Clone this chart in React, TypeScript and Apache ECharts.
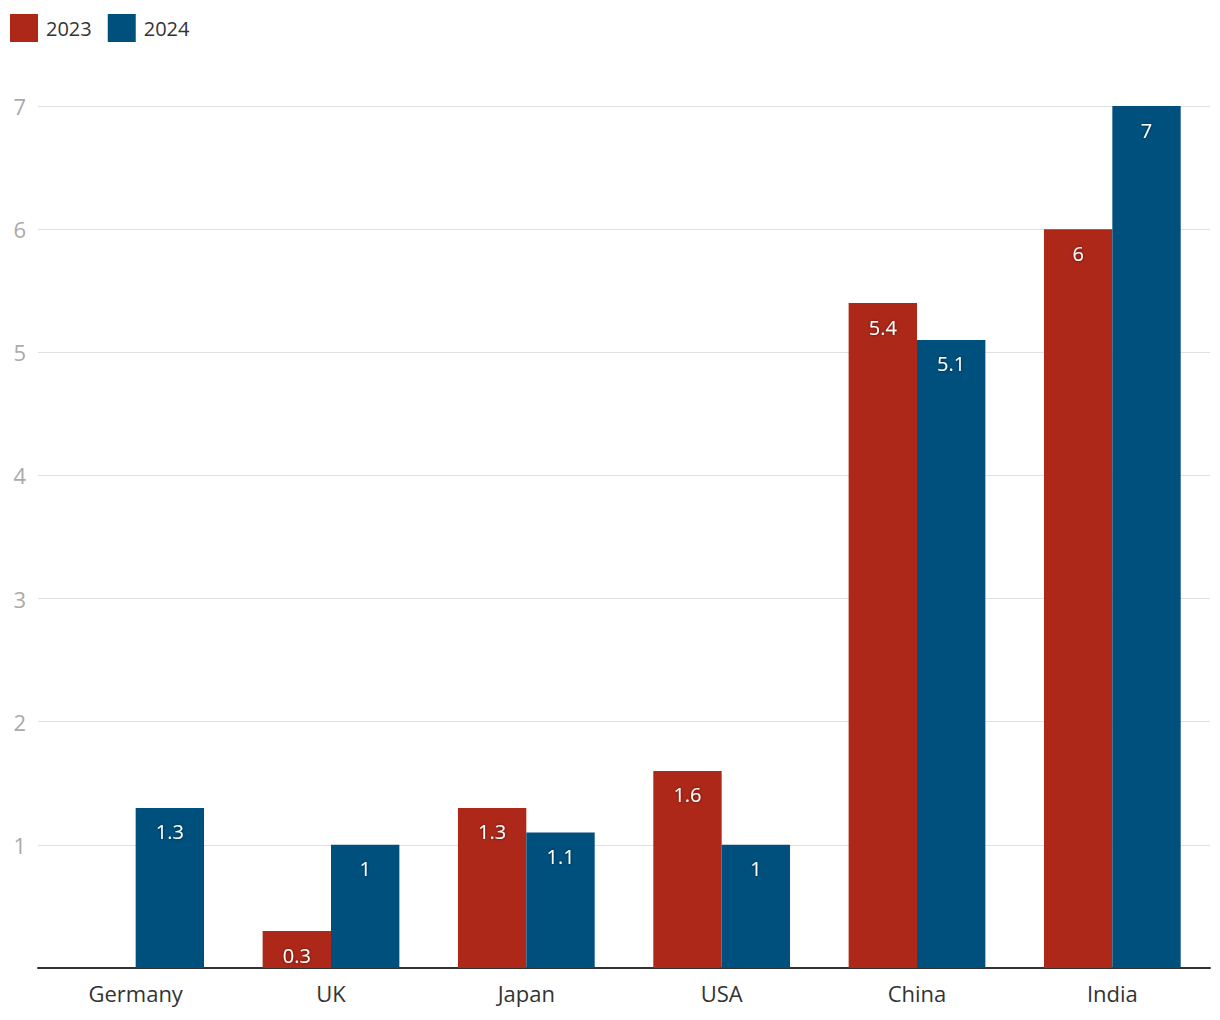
import React, { useEffect, useRef } from "react";
import * as echarts from "echarts";

const categories = ["Germany", "UK", "Japan", "USA", "China", "India"];
const values2023: (number | null)[] = [null, 0.3, 1.3, 1.6, 5.4, 6];
const values2024: number[] = [1.3, 1, 1.1, 1, 5.1, 7];
const seriesNames = ["2023", "2024"];
const colors = ["#AD2819", "#00507D"];

const FONT = "'Open Sans', 'Noto Sans', sans-serif";

export default function App() {
  const ref = useRef<HTMLDivElement>(null);
  useEffect(() => {
    if (!ref.current) return;
    const chart = echarts.init(ref.current, undefined, { renderer: "svg" });
    const label = {
      show: true,
      position: "insideTop" as const,
      distance: 14,
      color: "#fff",
      fontSize: 20,
      fontFamily: FONT,
      textShadowColor: "rgba(0,0,0,0.6)",
      textShadowBlur: 3,
    };
    chart.setOption({
      animation: false,
      color: colors,
      legend: {
        left: 10,
        top: 14,
        padding: 0,
        itemWidth: 28,
        itemHeight: 28,
        itemGap: 16,
        icon: "rect",
        textStyle: { fontSize: 20, color: "#333", fontFamily: FONT, padding: [0, 0, 0, 3] },
        data: seriesNames,
      },
      grid: { left: 38, right: 10, top: 106, bottom: 52, containLabel: false },
      xAxis: {
        type: "category",
        data: categories,
        axisLine: { lineStyle: { color: "#333", width: 2 } },
        axisTick: { show: false },
        axisLabel: { fontSize: 22, color: "#333", fontFamily: FONT, margin: 14 },
      },
      yAxis: {
        type: "value",
        min: 0,
        max: 7,
        interval: 1,
        axisLine: { show: false },
        axisTick: { show: false },
        splitLine: { lineStyle: { color: "#e0e0e0", width: 1 } },
        axisLabel: {
          fontSize: 22,
          color: "#aaa",
          fontFamily: FONT,
          margin: 12,
          formatter: (v: number) => (v === 0 ? "" : String(v)),
        },
      },
      series: [
        {
          name: seriesNames[0],
          type: "bar",
          data: values2023,
          barGap: "0%",
          barCategoryGap: "30%",
          label,
        },
        {
          name: seriesNames[1],
          type: "bar",
          data: values2024,
          barGap: "0%",
          barCategoryGap: "30%",
          label,
        },
      ],
    });
    return () => chart.dispose();
  }, []);
  return (
    <div
      ref={ref}
      style={{ position: "fixed", left: 0, top: 0, width: 1220, height: 1020, background: "#fff" }}
    />
  );
}
